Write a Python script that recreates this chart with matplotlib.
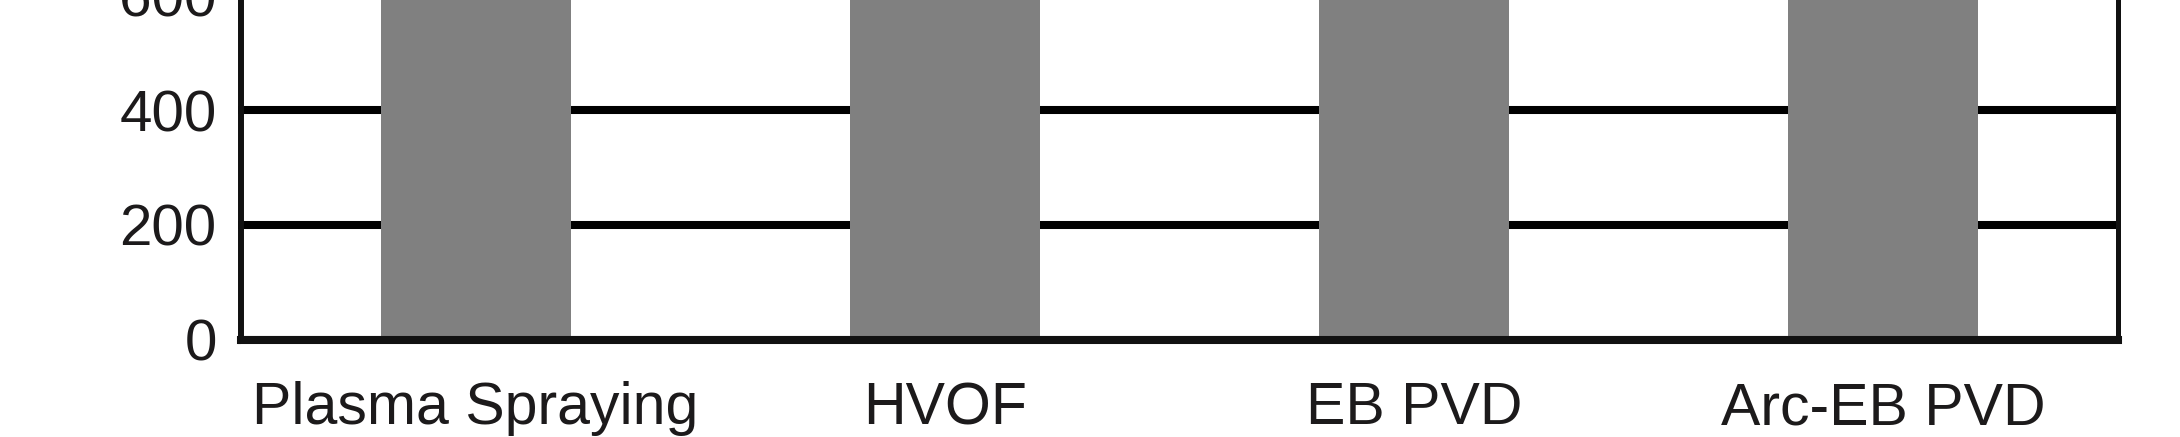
import matplotlib
matplotlib.use("Agg")
import matplotlib.pyplot as plt

categories = ["Plasma Spraying", "HVOF", "EB PVD", "Arc-EB PVD"]
values = [900, 900, 900, 900]   # bars run beyond the visible (cropped) top
y_ticks = [0, 200, 400, 600]

plt.rcParams['font.family'] = ['Liberation Sans', 'DejaVu Sans']
ink = '#1c1a1b'

fig = plt.figure(figsize=(21.8, 4.37), dpi=100)
W, H = 2180, 437
y0_px = 339.5
px_per_unit = 114.75 / 200
ytop = 650
left, right = 241, 2118
ax = fig.add_axes([left / W, (H - y0_px) / H, (right - left) / W, ytop * px_per_unit / H])

x = [i + 0.5 for i in range(len(categories))]
ax.bar(x, values, width=0.405, color='#808080', zorder=3, linewidth=0)

ax.set_xlim(0, len(categories))
ax.set_ylim(0, ytop)
ax.set_yticks(y_ticks)
ax.set_yticklabels([str(v) for v in y_ticks])
ax.set_xticks(x)
ax.set_xticklabels(categories)

ax.yaxis.grid(True, color='black', linewidth=5.8, zorder=1)
ax.set_axisbelow(True)

ax.tick_params(axis='y', direction='out', length=2.5, width=5.8, color='black',
               labelsize=42, labelcolor=ink, pad=15)
ax.tick_params(axis='x', length=0, labelsize=42.5, labelcolor=ink, pad=30)

ax.spines['top'].set_visible(False)
ax.spines['left'].set_linewidth(4.3)
ax.spines['bottom'].set_linewidth(5.8)
ax.spines['right'].set_linewidth(3.6)
for s in ['left', 'bottom', 'right']:
    ax.spines[s].set_color('#111111')
    ax.spines[s].set_zorder(4)

fig.savefig('out.png', dpi=100)
